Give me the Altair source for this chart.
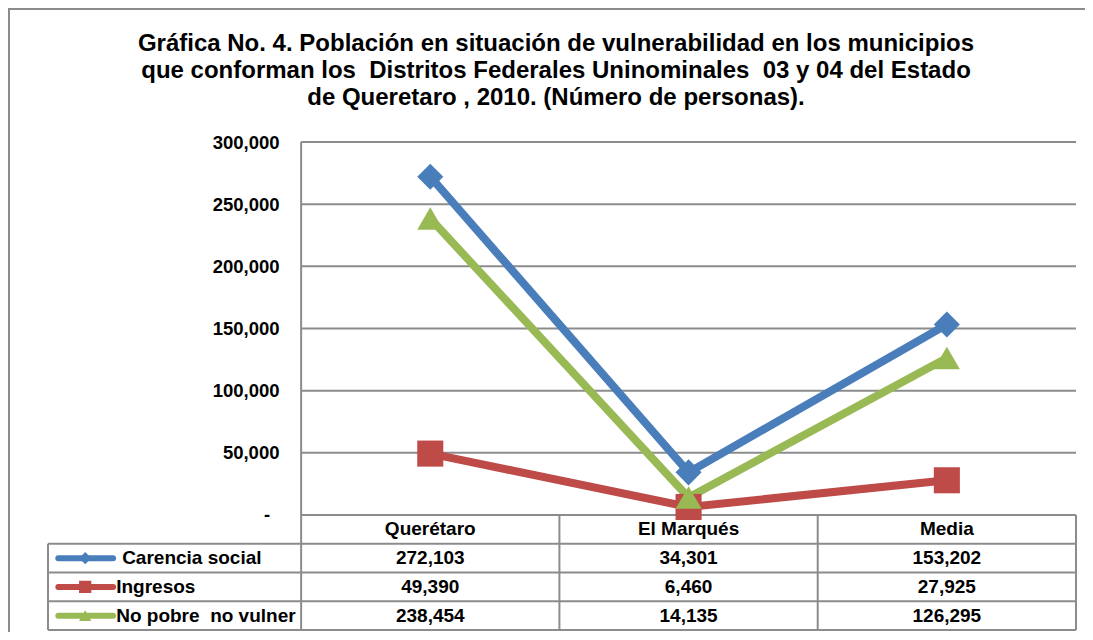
import altair as alt
import pandas as pd

# ---- data ----
categories = ["Querétaro", "El Marqués", "Media"]
series = ["Carencia social", "Ingresos", "No pobre  no vulner"]
carencia_social = [272103, 34301, 153202]
ingresos = [49390, 6460, 27925]
no_pobre = [238454, 14135, 126295]
y_ticks = [50000, 100000, 150000, 200000, 250000, 300000]
zero_label = "-"
colors = ["#4A7EBB", "#BE4B48", "#98B954"]
shapes = ["diamond", "square", "triangle-up"]

NB = "\u00a0"
title_lines = [
    "Gráfica No. 4. Población en situación de vulnerabilidad en los municipios",
    "que conforman los" + NB + " Distritos Federales Uninominales" + NB + " 03 y 04 del Estado",
    "de Queretaro , 2010. (Número de personas).",
]

FONT = "Liberation Sans"
GRID = "#8C8C8C"

# ---- layout in scale units ----
L = 0.98                 # width of legend column (in category units)
YMAX = 300000
R = YMAX * 28.75 / 373   # height of one table row (in value units)
YMIN = -4 * R

values = [carencia_social, ingresos, no_pobre]
rows = []
for s, vals in zip(series, values):
    for i, v in enumerate(vals):
        rows.append({"serie": s, "cat": categories[i], "x": i + 0.5, "y": v})
df = pd.DataFrame(rows)

xs = alt.Scale(domain=[-L, 3], nice=False, zero=False)
ys = alt.Scale(domain=[YMIN, YMAX], nice=False, zero=False)
color_scale = alt.Scale(domain=series, range=colors)
shape_scale = alt.Scale(domain=series, range=shapes)

yaxis = alt.Axis(
    values=y_ticks, format=",.0f",
    ticks=False, tickSize=0, domain=False, grid=False,
    labelPadding=22, labelFont=FONT, labelFontSize=18.5, labelFontWeight="bold",
    labelColor="black", offset=-253, title=None,
)


def X(field="x"):
    return alt.X(f"{field}:Q", scale=xs, axis=None)


def Y(field="y"):
    return alt.Y(f"{field}:Q", scale=ys, axis=yaxis)


# gridlines
grid_df = pd.DataFrame({"y": y_ticks, "x": [0] * 6, "x2": [3] * 6})
grid = alt.Chart(grid_df).mark_rule(color=GRID, strokeWidth=2).encode(
    x=X(), x2="x2", y=Y()
)

# "-" label for zero (accounting style)
zero_df = pd.DataFrame({"x": [-0.132], "y": [0], "t": [zero_label]})
zero_txt = alt.Chart(zero_df).mark_text(
    font=FONT, fontSize=18.5, fontWeight="bold", color="black", baseline="middle"
).encode(x=X(), y=Y(), text="t:N")

# table horizontal borders
h_df = pd.DataFrame({
    "y": [0, -R, -2 * R, -3 * R, -4 * R],
    "x": [0, -L, -L, -L, -L],
    "x2": [3, 3, 3, 3, 3],
})
hlines = alt.Chart(h_df).mark_rule(color=GRID, strokeWidth=2).encode(
    x=X(), x2="x2", y=Y()
)

# table vertical borders
v_df = pd.DataFrame({
    "x": [-L, 0, 1, 2, 3],
    "y": [-R, YMAX, 0, 0, 0],
    "y2": [-4 * R] * 5,
})
vlines = alt.Chart(v_df).mark_rule(color=GRID, strokeWidth=2).encode(
    x=X(), y=Y(), y2="y2"
)

# lines and markers
lines = alt.Chart(df).mark_line(strokeWidth=8).encode(
    x=X(), y=Y(),
    color=alt.Color("serie:N", scale=color_scale, legend=None),
    detail="serie:N",
)
points = alt.Chart(df).mark_point(filled=True, size=680, opacity=1).encode(
    x=X(), y=Y(),
    color=alt.Color("serie:N", scale=color_scale, legend=None),
    shape=alt.Shape("serie:N", scale=shape_scale, legend=None),
)

TXT = dict(font=FONT, fontSize=19, fontWeight="bold", color="black", baseline="middle")

# table header
hdr_df = pd.DataFrame({"x": [0.5, 1.5, 2.5], "y": [-R / 2] * 3, "t": categories})
header = alt.Chart(hdr_df).mark_text(**TXT).encode(x=X(), y=Y(), text="t:N")

# table values
cell_rows = []
for r, (s, vals) in enumerate(zip(series, values)):
    for i, v in enumerate(vals):
        cell_rows.append({"x": i + 0.5, "y": -(r + 1.5) * R, "t": f"{v:,}"})
cells = alt.Chart(pd.DataFrame(cell_rows)).mark_text(**TXT).encode(
    x=X(), y=Y(), text="t:N"
)

# legend column
leg_df = pd.DataFrame({
    "serie": series,
    "y": [-(r + 1.5) * R for r in range(3)],
    "x": [-0.94] * 3,
    "x2": [-0.728] * 3,
    "xm": [-0.836] * 3,
    "xt": [-0.693, -0.716, -0.716],
    "label": ["Carencia social", "Ingresos", "No pobre" + NB + " no vulner"],
})
leg_lines = alt.Chart(leg_df).mark_rule(strokeWidth=6, strokeCap="round").encode(
    x=X(), x2="x2", y=Y(),
    color=alt.Color("serie:N", scale=color_scale, legend=None),
)
leg_marks = alt.Chart(leg_df).mark_point(filled=True, size=150, opacity=1).encode(
    x=X("xm"), y=Y(),
    color=alt.Color("serie:N", scale=color_scale, legend=None),
    shape=alt.Shape("serie:N", scale=shape_scale, legend=None),
)
leg_text = alt.Chart(leg_df).mark_text(align="left", **TXT).encode(
    x=X("xt"), y=Y(), text="label:N"
)

# outer frame
frame = alt.Chart(pd.DataFrame({"a": [0]})).mark_rect(
    fill="transparent", stroke=GRID, strokeWidth=2
).encode(
    x=alt.value(-39), x2=alt.value(1050),
    y=alt.value(-133), y2=alt.value(500),
)

chart = alt.layer(
    frame, grid, hlines, vlines, lines, points, zero_txt, header, cells,
    leg_lines, leg_marks, leg_text,
).properties(
    width=1028, height=488,
    autosize=alt.AutoSizeParams(type="none"),
    padding={"left": 40, "top": 134, "right": 9, "bottom": 2},
    title=alt.TitleParams(
        text=title_lines, font=FONT, fontSize=24, fontWeight="bold",
        color="black", anchor="middle", lineHeight=27, offset=-102, dx=-6,
    ),
).configure_view(stroke=None)

chart.save("out.html", embed_options={"renderer": "svg", "actions": False})
